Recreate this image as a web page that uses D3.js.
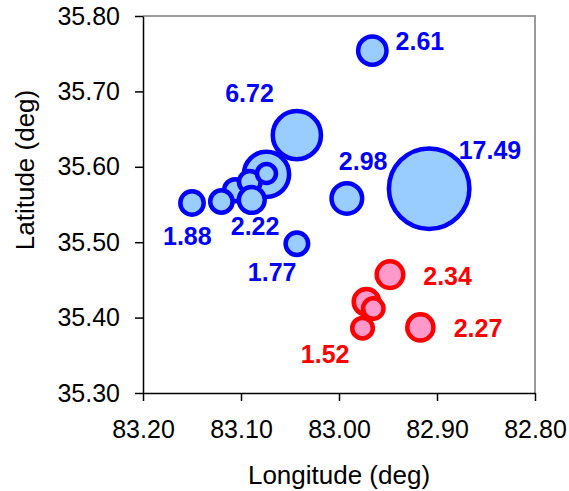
<!DOCTYPE html>
<html>
<head>
<meta charset="utf-8">
<script src="https://cdn.jsdelivr.net/npm/d3@7"></script>
<style>
  html, body { margin: 0; padding: 0; background: #fff; }
  svg { display: block; font-family: "Liberation Sans", Arial, sans-serif; }
</style>
</head>
<body>
<svg id="chart" width="569" height="491"></svg>
<script>
// ---- data ----
const series = ["blue", "blue", "blue", "blue", "blue", "blue", "blue", "blue", "blue", "blue", "blue", "blue",
                "red", "red", "red", "red", "red"];
const longitude = [82.908, 83.043, 83.074, 82.992, 82.966, 83.043, 83.106, 83.120, 83.091, 83.150, 83.089, 83.074,
                   82.972, 82.965, 82.948, 82.976, 82.917];
const latitude  = [35.571, 35.642, 35.590, 35.558, 35.754, 35.498, 35.569, 35.554, 35.580, 35.552, 35.556, 35.591,
                   35.421, 35.412, 35.457, 35.386, 35.387];
const bubbleSize = [17.49, 6.72, 6.0, 2.98, 2.61, 1.77, 1.70, 1.75, 1.65, 1.88, 2.22, 1.33,
                    2.18, 1.50, 2.34, 1.52, 2.27];
const labelText = ["17.49", "6.72", null, "2.98", "2.61", "1.77", null, null, null, "1.88", "2.22", null,
                   null, null, "2.34", "1.52", "2.27"];
const xTicks = [83.20, 83.10, 83.00, 82.90, 82.80];
const yTicks = [35.30, 35.40, 35.50, 35.60, 35.70, 35.80];
const xTitle = "Longitude (deg)";
const yTitle = "Latitude (deg)";

// ---- layout / style (not data) ----
const labelOffset = {
  "17.49": [29.5, -29.3], "6.72": [-71.7, -33], "2.98": [-8, -28.3], "2.61": [23.3, -0.7],
  "1.77": [-49, 37.7], "1.88": [-29, 42.3], "2.22": [-21, 35],
  "2.34": [33.3, 10], "1.52": [-61.7, 34.7], "2.27": [33.3, 9.3]
};
const colors = {
  blue: { stroke: "#0000FF", fill: "#99CCFF", text: "#0000FF" },
  red:  { stroke: "#FF0000", fill: "#FF99CC", text: "#FF0000" }
};
const strokeW = 4.5;
const plot = { left: 143, right: 535, top: 16, bottom: 393 };

const svg = d3.select("#chart");
const x = d3.scaleLinear().domain([83.20, 82.80]).range([plot.left, plot.right]);
const y = d3.scaleLinear().domain([35.30, 35.80]).range([plot.bottom, plot.top]);
const r = d3.scaleSqrt().domain([0, 17.49]).range([0, 42.5]);

// frame (top and right, grey)
svg.append("path")
  .attr("d", `M${plot.left},${plot.top}H${plot.right}V${plot.bottom}`)
  .attr("fill", "none").attr("stroke", "#9a9a9a").attr("stroke-width", 2);

// axes
const fmt = d3.format(".2f");
const xAxis = svg.append("g")
  .attr("transform", `translate(0,${plot.bottom})`)
  .call(d3.axisBottom(x).tickValues(xTicks).tickFormat(fmt).tickSize(8).tickSizeOuter(0).tickPadding(19));
const yAxis = svg.append("g")
  .attr("transform", `translate(${plot.left},0)`)
  .call(d3.axisLeft(y).tickValues(yTicks).tickFormat(fmt).tickSize(8).tickSizeOuter(0).tickPadding(15));
[xAxis, yAxis].forEach(g => {
  g.attr("font-family", null).attr("font-size", null);
  g.selectAll(".domain").attr("stroke", "#000").attr("stroke-width", 1.5);
  g.selectAll(".tick line").attr("stroke", "#000").attr("stroke-width", 1.5);
  g.selectAll(".tick text").attr("fill", "#000")
    .style("font-family", '"Liberation Sans", Arial, sans-serif').style("font-size", "25px");
});

// titles
svg.append("text")
  .attr("x", (plot.left + plot.right) / 2).attr("y", 484)
  .attr("text-anchor", "middle").style("font-size", "26px").attr("fill", "#000")
  .text(xTitle);
svg.append("text")
  .attr("transform", `translate(34,170) rotate(-90)`)
  .attr("text-anchor", "middle").style("font-size", "26px").attr("fill", "#000")
  .text(yTitle);

// bubbles
const data = longitude.map((lon, i) => ({
  lon, lat: latitude[i], size: bubbleSize[i], series: series[i], label: labelText[i]
}));

svg.append("g").selectAll("circle")
  .data(data).join("circle")
  .attr("cx", d => x(d.lon))
  .attr("cy", d => y(d.lat))
  .attr("r", d => r(d.size) - strokeW / 2)
  .attr("fill", d => colors[d.series].fill)
  .attr("stroke", d => colors[d.series].stroke)
  .attr("stroke-width", strokeW);

svg.append("g").selectAll("text")
  .data(data.filter(d => d.label)).join("text")
  .attr("x", d => x(d.lon) + labelOffset[d.label][0])
  .attr("y", d => y(d.lat) + labelOffset[d.label][1])
  .attr("fill", d => colors[d.series].text)
  .style("font-size", "25px").style("font-weight", "bold")
  .text(d => d.label);
</script>
</body>
</html>
